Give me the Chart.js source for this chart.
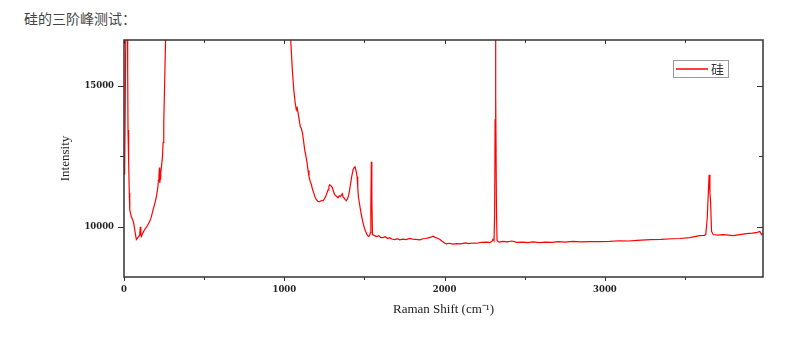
<!DOCTYPE html>
<html>
<head>
<meta charset="utf-8">
<script src="https://cdn.jsdelivr.net/npm/chart.js@4.4.1/dist/chart.umd.min.js"></script>
<style>
  html, body { margin: 0; padding: 0; background: #fff; }
  #wrap { position: relative; width: 800px; height: 347px; }
  #title { position: absolute; left: 24px; top: 8px; font: 14px "Noto Sans CJK SC", sans-serif; color: #444; }
  canvas { position: absolute; left: 0; top: 0; }
</style>
</head>
<body>
<div id="wrap">
  <div id="title">硅的三阶峰测试：</div>
  <canvas id="chartSi" width="800" height="347"></canvas>
</div>
<script>
const seriesLabel = "硅";

// Raman shift (cm-1) and measured intensity
const ramanShift = [
  4, 8, 14, 19, 23, 25, 29, 33, 36, 46, 54, 60, 68, 77, 85, 93, 98, 102, 105, 109,
  118, 129, 140, 150, 160, 170, 181, 192, 202, 210, 215, 218, 221, 223, 226, 229, 235, 240, 244, 248,
  254, 260, 280, 400, 520, 640, 800, 950, 1020, 1040, 1050, 1059, 1068, 1075, 1080, 1086, 1093, 1100, 1106, 1113,
  1120, 1127, 1135, 1142, 1148, 1154, 1162, 1169, 1176, 1183, 1192, 1200, 1210, 1221, 1231, 1241, 1250, 1258, 1266, 1273,
  1278, 1283, 1290, 1300, 1307, 1314, 1325, 1335, 1343, 1350, 1356, 1362, 1367, 1371, 1380, 1387, 1395, 1402, 1408, 1414,
  1421, 1429, 1436, 1441, 1448, 1454, 1458, 1462, 1468, 1475, 1483, 1491, 1500, 1510, 1518, 1525, 1532, 1537, 1540, 1543,
  1546, 1550, 1560, 1575, 1590, 1600, 1616, 1630, 1645, 1657, 1670, 1690, 1705, 1720, 1740, 1760, 1782, 1800, 1820, 1845,
  1865, 1880, 1897, 1915, 1928, 1940, 1955, 1969, 1985, 2000, 2011, 2030, 2050, 2074, 2100, 2130, 2150, 2177, 2200, 2230,
  2261, 2280, 2295, 2302, 2308, 2312, 2315, 2317, 2320, 2323, 2327, 2340, 2365, 2390, 2420, 2450, 2489, 2520, 2550, 2593,
  2630, 2670, 2710, 2750, 2800, 2850, 2900, 2970, 3030, 3090, 3150, 3200, 3285, 3350, 3420, 3467, 3529, 3591, 3620, 3629,
  3638, 3643, 3650, 3655, 3659, 3665, 3675, 3705, 3737, 3770, 3799, 3840, 3883, 3920, 3950, 3966, 3977, 3986
];
const intensity = [
  11850, 14500, 19000, 21000, 15500, 13440, 12270, 11200, 10600, 10350, 10250, 10140, 9850, 9540, 9600, 9650, 9720, 10000, 9700, 9650,
  9780, 9900, 9980, 10080, 10180, 10330, 10600, 10820, 11070, 11350, 11650, 11780, 12100, 11560, 11700, 11920, 12200, 12490, 13000, 13700,
  15230, 16800, 22000, 40000, 80000, 40000, 26000, 20000, 17300, 16650, 15580, 14870, 14400, 14160, 14230, 14050, 13800, 13550, 13500, 13340,
  13050, 12740, 12500, 12270, 12000, 11780, 11600, 11490, 11330, 11210, 11050, 10960, 10900, 10890, 10930, 10920, 10990, 11070, 11200, 11310,
  11420, 11490, 11460, 11390, 11250, 11140, 11080, 11030, 11100, 11070, 11120, 11170, 11060, 11030, 10960, 10920, 11000, 11140, 11330, 11560,
  11800, 12030, 12110, 12130, 11980, 11780, 11400, 11070, 10850, 10600, 10350, 10140, 9950, 9790, 9700, 9650, 9680, 9790, 10800, 12310,
  11000, 9720, 9690, 9650, 9680, 9620, 9610, 9640, 9580, 9610, 9560, 9540, 9570, 9530, 9560, 9540, 9580, 9560, 9550, 9530,
  9570, 9580, 9600, 9630, 9660, 9620, 9590, 9550, 9480, 9420, 9390, 9410, 9380, 9400, 9390, 9420, 9400, 9420, 9410, 9440,
  9450, 9430, 9480, 9550, 9500, 10400, 13800, 25000, 14760, 10800, 9500, 9450, 9480, 9460, 9490, 9440, 9450, 9430, 9460, 9430,
  9450, 9440, 9470, 9450, 9480, 9460, 9470, 9470, 9480, 9500, 9490, 9510, 9540, 9550, 9570, 9580, 9610, 9680, 9690, 9720,
  10300, 10950, 11850, 11200, 10900, 9830, 9720, 9700, 9720, 9700, 9680, 9720, 9750, 9770, 9800, 9830, 9720, 9760
];

const xMin = 0, xMax = 3986;
const yMin = 8210, yMax = 16640;
const xTicks = [0, 500, 1000, 1500, 2000, 2500, 3000, 3500];
const yTicks = [10000, 12500, 15000];
const xLabelled = [0, 1000, 2000, 3000];
const yLabelled = [10000, 15000];

const tickFont = { family: "DejaVu Serif", size: 8.5, weight: "bold" };
const titleFont = { family: "Liberation Serif", size: 13 };

// frame box, tick marks on all four sides and the legend box
const framePlugin = {
  id: "frame",
  afterDraw(chart) {
    const { ctx, chartArea: a, scales: { x, y } } = chart;
    ctx.save();
    ctx.strokeStyle = "#333";
    ctx.lineWidth = 1.5;
    ctx.strokeRect(a.left, a.top, a.right - a.left, a.bottom - a.top);

    ctx.lineWidth = 1;
    x.ticks.forEach(t => {
      const px = Math.round(x.getPixelForValue(t.value)) + 0.5;
      const major = xLabelled.includes(t.value);
      ctx.beginPath();
      ctx.moveTo(px, a.bottom);
      ctx.lineTo(px, a.bottom + (major ? 4 : 3));
      ctx.moveTo(px, a.top);
      ctx.lineTo(px, a.top + (major ? 4 : 3));
      ctx.stroke();
    });
    y.ticks.forEach(t => {
      const py = Math.round(y.getPixelForValue(t.value)) + 0.5;
      const major = yLabelled.includes(t.value);
      ctx.beginPath();
      ctx.moveTo(a.left, py);
      ctx.lineTo(a.left - (major ? 6 : 4), py);
      ctx.moveTo(a.right, py);
      ctx.lineTo(a.right - (major ? 6 : 4), py);
      ctx.stroke();
    });

    // legend
    const lx = 673, ly = 60, lw = 55, lh = 17;
    ctx.strokeStyle = "#999";
    ctx.lineWidth = 1;
    ctx.strokeRect(lx + 0.5, ly + 0.5, lw, lh);
    const ds = chart.data.datasets[0];
    ctx.strokeStyle = ds.borderColor;
    ctx.lineWidth = 1.5;
    ctx.beginPath();
    ctx.moveTo(lx + 3, ly + 9);
    ctx.lineTo(lx + 35, ly + 9);
    ctx.stroke();
    ctx.fillStyle = "#333";
    ctx.font = '13px "Noto Sans CJK SC"';
    ctx.textBaseline = "middle";
    ctx.fillText(ds.label, lx + 38, ly + 9);
    ctx.restore();
  }
};

const ctx = document.getElementById("chartSi").getContext("2d");
new Chart(ctx, {
  type: "line",
  data: {
    datasets: [{
      label: seriesLabel,
      data: ramanShift.map((v, i) => ({ x: v, y: intensity[i] })),
      borderColor: "#ff0000",
      borderWidth: 1.2,
      pointRadius: 0,
      tension: 0,
      fill: false
    }]
  },
  options: {
    responsive: false,
    animation: false,
    layout: { padding: { left: 0, top: 40, right: 37, bottom: 0 } },
    plugins: { legend: { display: false }, tooltip: { enabled: false } },
    scales: {
      x: {
        type: "linear",
        min: xMin,
        max: xMax,
        grid: { display: false },
        border: { display: false },
        afterFit: s => { s.height = 70; },
        afterBuildTicks: s => { s.ticks = xTicks.map(v => ({ value: v })); },
        ticks: {
          autoSkip: false,
          maxRotation: 0,
          padding: 0,
          color: "#222",
          font: tickFont,
          callback: v => xLabelled.includes(v) ? String(v) : ""
        },
        title: {
          display: true,
          text: "Raman Shift (cm⁻¹)",
          color: "#222",
          font: titleFont,
          padding: { top: 0, bottom: 30 }
        }
      },
      y: {
        min: yMin,
        max: yMax,
        grid: { display: false },
        border: { display: false },
        afterFit: s => { s.width = 124; },
        afterBuildTicks: s => { s.ticks = yTicks.map(v => ({ value: v })); },
        ticks: {
          autoSkip: false,
          padding: 2,
          color: "#222",
          font: tickFont,
          callback: v => yLabelled.includes(v) ? String(v) : ""
        },
        title: {
          display: true,
          text: "Intensity",
          color: "#222",
          font: titleFont,
          padding: { top: 58, bottom: 0 }
        }
      }
    }
  },
  plugins: [framePlugin]
});
</script>
</body>
</html>
